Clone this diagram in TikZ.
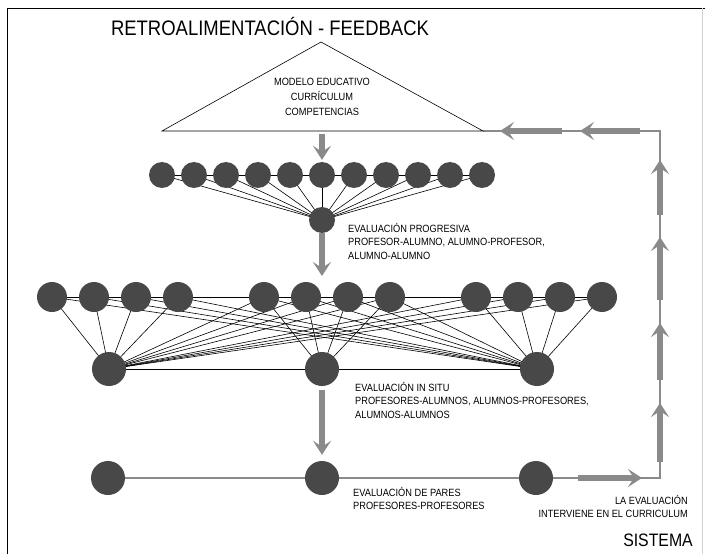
\documentclass[tikz,border=0pt]{standalone}
\usepackage{fontspec}
\setmainfont{Liberation Sans}[FakeStretch=0.88]
\usetikzlibrary{arrows.meta,backgrounds}
\definecolor{dotColor}{RGB}{72,72,72}
\definecolor{flowColor}{RGB}{138,138,138}
\tikzstyle{sheet} = [x=1pt, y=-1pt]
\tikzstyle{dotStyle} = [circle, fill=dotColor, inner sep=0pt, minimum size=26pt]
\tikzstyle{linkLine} = [black, line width=.6pt]
\tikzstyle{flowArrow} = [color=flowColor, line width=5.5pt, -{Stealth[length=14pt, width=18pt, inset=6pt]}]
\tikzstyle{flowLine} = [color=flowColor, line width=1.3pt]
\tikzstyle{labelText} = [font=\fontsize{10.5}{13.5}\selectfont, align=left, anchor=north west, inner sep=0pt]
\newcommand{\evalText}[3]{\node [labelText] (#1) at (#2) {#3};}

\begin{document}
\begin{tikzpicture}[sheet]
  \useasboundingbox (0,0) rectangle (705,554);
  \draw [line width=.8pt] (7,554) -- (7,8) -- (705,8);
  \draw [gray!35, line width=.8pt] (702,8) -- (702,554);

  \node [font=\fontsize{21}{24}\selectfont, anchor=base] (title) at (270,35.5) {RETROALIMENTACIÓN - FEEDBACK};

  \coordinate (apex) at (321,42);
  \coordinate (baseLeft) at (162,131);
  \coordinate (baseRight) at (483,131);
  \coordinate (baseMid) at (322,131);
  \draw [linkLine] (baseLeft) -- (apex) -- (baseRight) -- cycle;
  \node [font=\fontsize{10.5}{15}\selectfont, align=center, anchor=north, inner sep=0pt] (model) at (322,78) {MODELO EDUCATIVO\\CURRÍCULUM\\COMPETENCIAS};

  \foreach \i in {1,...,11}
    \node [dotStyle] (top\i) at ({130+32*\i},175) {};
  \node [dotStyle] (prog) at (322,220) {};
  \foreach \g in {0,1,2}
    \foreach \k in {1,...,4} {
      \pgfmathtruncatemacro{\n}{4*\g+\k}
      \node [dotStyle, minimum size=30pt] (mid\n) at ({10+42*\k+212*\g},297) {};
    }
  \foreach \i/\x in {1/109,2/322,3/537}
    \node [dotStyle, minimum size=34pt] (situ\i) at (\x,369) {};
  \foreach \i/\x in {1/108,2/322,3/536}
    \node [dotStyle, minimum size=34pt] (par\i) at (\x,478) {};

  \coordinate (cornerLow) at (660,478);
  \coordinate (cornerHigh) at (660,131);
  \coordinate (progEnd) at (322,276);

  \begin{pgfonlayer}{background}
    \fill [white] (0,0) rectangle (705,554);
    \draw [linkLine] (top1) -- (top11);
    \foreach \i in {1,...,11}
      \draw [linkLine] (top\i.center) -- (prog.center);
    \draw [linkLine] (mid1) -- (mid12);
    \draw [linkLine] (situ1) -- (situ3);
    \foreach \n in {1,...,12} {
      \draw [linkLine] (mid\n.center) -- (situ1.center);
      \draw [linkLine] (mid\n.center) -- (situ3.center);
    }
    \foreach \n in {5,...,8}
      \draw [linkLine] (mid\n.center) -- (situ2.center);
    \draw [flowLine] (par1) -- (par3) -- (cornerLow) -- (cornerHigh) -- (baseRight);
  \end{pgfonlayer}

  \draw [flowArrow, shorten <=3pt, shorten >=2pt] (baseMid) -- (top6);
  \draw [flowArrow] (prog) -- (progEnd);
  \draw [flowArrow, shorten <=4pt, shorten >=6pt] (situ2) -- (par2);
  \draw [flowArrow] (578,478) -- (642,478);
  \foreach \a/\b in {462/403, 380/323, 300/237, 215/160}
    \draw [flowArrow] (660,\a) -- (660,\b);
  \foreach \a/\b in {640/580, 562/500}
    \draw [flowArrow] (\a,131) -- (\b,131);

  \evalText{progText}{348,223}{EVALUACIÓN PROGRESIVA\\PROFESOR-ALUMNO, ALUMNO-PROFESOR,\\ALUMNO-ALUMNO}
  \evalText{situText}{355,382}{EVALUACIÓN IN SITU\\PROFESORES-ALUMNOS, ALUMNOS-PROFESORES,\\ALUMNOS-ALUMNOS}
  \evalText{parText}{353,487}{EVALUACIÓN DE PARES\\PROFESORES-PROFESORES}
  \node [labelText, align=right, anchor=north east] (curText) at (688,495) {LA EVALUACIÓN\\INTERVIENE EN EL CURRICULUM};
  \node [font=\fontsize{18}{20}\selectfont, anchor=base east, inner sep=0pt] (sistema) at (693,546.5) {SISTEMA};
\end{tikzpicture}
\end{document}
